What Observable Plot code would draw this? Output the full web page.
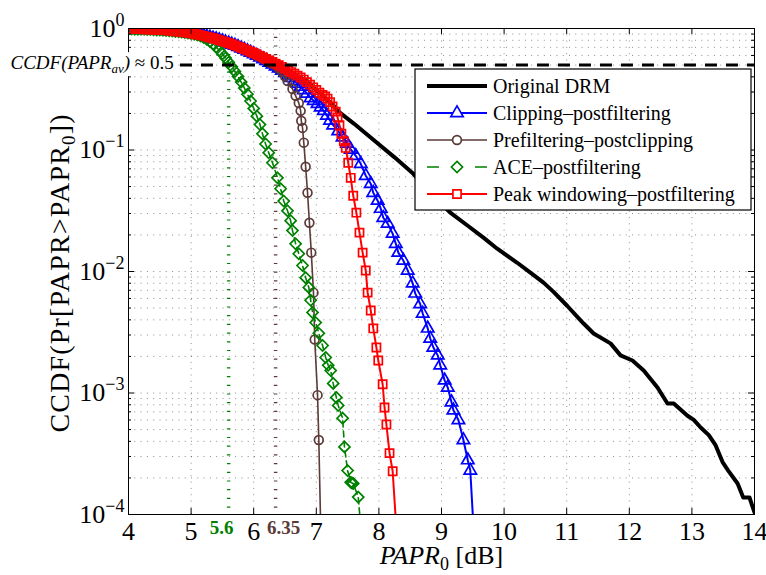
<!DOCTYPE html>
<html>
<head>
<meta charset="utf-8">
<script src="https://cdn.jsdelivr.net/npm/d3@7"></script>
<script src="https://cdn.jsdelivr.net/npm/@observablehq/plot@0.6"></script>
<style>
  body { margin: 0; background: #fff; }
  #chart { width: 766px; height: 575px; }
  svg { font-family: "Liberation Serif", "Times New Roman", serif; }
</style>
</head>
<body>
<div id="chart"></div>
<script>
// Axis ticks
const xTicks = [4, 5, 6, 7, 8, 9, 10, 11, 12, 13, 14];
const yTicks = [1e-4, 1e-3, 1e-2, 1e-1, 1];
const yMinor = [2, 3, 4, 5, 6, 7, 8, 9].flatMap(m => [1e-4, 1e-3, 1e-2, 1e-1].map(d => m * d));

// Average PAPR where each CCDF crosses 0.5
const paprAv = [5.6, 6.35];
const paprAvLabels = ["5.6", "6.35"];
const ccdfLevel = [0.5];

// Series names (legend order)
const seriesNames = ["Original DRM", "Clipping\u2013postfiltering", "Prefiltering\u2013postclipping", "ACE\u2013postfiltering", "Peak windowing\u2013postfiltering"];

// Original DRM: [PAPR0 dB, CCDF]
const drm = [[4.00,0.992],[4.05,0.991],[4.10,0.990],[4.15,0.989],[4.20,0.988],[4.25,0.986],[4.30,0.984],[4.35,0.982],[4.40,0.980],[4.45,0.977],[4.50,0.974],[4.55,0.970],[4.60,0.966],[4.65,0.961],[4.70,0.956],[4.75,0.950],[4.80,0.944],[4.85,0.937],[4.90,0.929],[4.95,0.921],[5.00,0.912],[5.05,0.902],[5.10,0.892],[5.15,0.881],[5.20,0.869],[5.25,0.857],[5.30,0.844],[5.35,0.831],[5.40,0.817],[5.45,0.803],[5.50,0.788],[5.55,0.773],[5.60,0.758],[5.65,0.742],[5.70,0.726],[5.75,0.710],[5.80,0.694],[5.85,0.677],[5.90,0.661],[5.95,0.644],[6.00,0.628],[6.05,0.611],[6.10,0.595],[6.15,0.578],[6.20,0.562],[6.25,0.546],[6.30,0.530],[6.35,0.514],[6.40,0.499],[6.45,0.483],[6.50,0.468],[6.55,0.453],[6.60,0.438],[6.65,0.424],[6.70,0.409],[6.75,0.395],[6.80,0.380],[6.85,0.362],[6.90,0.345],[6.95,0.328],[7.00,0.312],[7.05,0.296],[7.10,0.281],[7.15,0.266],[7.20,0.252],[7.25,0.238],[7.30,0.225],[7.34,0.210],[7.60,0.165],[7.95,0.117],[8.25,0.087],[8.55,0.0637],[8.85,0.043],[9.14,0.0305],[9.42,0.0238],[9.67,0.0190],[9.89,0.0154],[10.21,0.0118],[10.42,0.0098],[10.63,0.0081],[10.79,0.0068],[11.01,0.0052],[11.27,0.00373],[11.43,0.00309],[11.70,0.00256],[11.86,0.00204],[12.05,0.00185],[12.23,0.00153],[12.45,0.00111],[12.61,0.00082],[12.71,0.00082],[12.93,0.00065],[13.03,0.00060],[13.14,0.00052],[13.27,0.00045],[13.38,0.00037],[13.49,0.00027],[13.58,0.00023],[13.73,0.00018],[13.82,0.000138],[13.92,0.000138],[14.00,0.000104]];

// Clipping-postfiltering
const clipping = [[4.00,0.993],[4.05,0.992],[4.10,0.991],[4.15,0.990],[4.20,0.989],[4.25,0.987],[4.30,0.985],[4.35,0.983],[4.40,0.981],[4.45,0.978],[4.50,0.975],[4.55,0.971],[4.60,0.967],[4.65,0.962],[4.70,0.957],[4.75,0.951],[4.80,0.945],[4.85,0.938],[4.90,0.930],[4.95,0.922],[5.00,0.913],[5.05,0.903],[5.10,0.893],[5.15,0.882],[5.20,0.870],[5.25,0.858],[5.30,0.845],[5.35,0.831],[5.40,0.817],[5.45,0.802],[5.50,0.787],[5.55,0.771],[5.60,0.755],[5.65,0.739],[5.70,0.722],[5.75,0.705],[5.80,0.688],[5.85,0.670],[5.90,0.652],[5.95,0.634],[6.00,0.616],[6.05,0.598],[6.10,0.579],[6.15,0.561],[6.20,0.543],[6.25,0.525],[6.30,0.507],[6.35,0.489],[6.40,0.470],[6.45,0.451],[6.50,0.432],[6.55,0.412],[6.60,0.392],[6.65,0.372],[6.70,0.352],[6.75,0.332],[6.80,0.312],[6.85,0.292],[6.91,0.268],[6.96,0.254],[7.02,0.240],[7.07,0.225],[7.12,0.210],[7.17,0.192],[7.22,0.175],[7.27,0.160],[7.35,0.143],[7.42,0.127],[7.49,0.113],[7.55,0.101],[7.63,0.0896],[7.71,0.077],[7.79,0.0614],[7.87,0.0527],[7.91,0.0445],[7.98,0.0383],[8.03,0.0329],[8.07,0.0277],[8.14,0.0248],[8.22,0.0205],[8.27,0.0169],[8.31,0.0143],[8.39,0.0123],[8.46,0.0102],[8.54,0.0080],[8.58,0.0066],[8.66,0.0054],[8.70,0.00451],[8.78,0.0034],[8.82,0.00281],[8.87,0.00237],[8.94,0.00204],[8.98,0.00169],[9.05,0.00127],[9.10,0.00111],[9.16,0.00084],[9.19,0.00072],[9.27,0.00060],[9.35,0.00041],[9.42,0.00028],[9.46,0.00023],[9.51,0.00008]];

// Prefiltering-postclipping
const prefilter = [[4.00,0.992],[4.05,0.991],[4.10,0.990],[4.15,0.989],[4.20,0.988],[4.25,0.986],[4.30,0.984],[4.35,0.982],[4.40,0.980],[4.45,0.977],[4.50,0.974],[4.55,0.970],[4.60,0.966],[4.65,0.961],[4.70,0.956],[4.75,0.950],[4.80,0.944],[4.85,0.937],[4.90,0.929],[4.95,0.921],[5.00,0.912],[5.05,0.902],[5.10,0.892],[5.15,0.881],[5.20,0.869],[5.25,0.857],[5.30,0.844],[5.35,0.831],[5.40,0.817],[5.45,0.803],[5.50,0.788],[5.55,0.773],[5.60,0.758],[5.65,0.742],[5.70,0.726],[5.75,0.710],[5.80,0.693],[5.85,0.675],[5.90,0.657],[5.95,0.639],[6.00,0.620],[6.05,0.601],[6.10,0.582],[6.15,0.563],[6.20,0.544],[6.25,0.528],[6.30,0.512],[6.35,0.497],[6.40,0.470],[6.45,0.440],[6.50,0.405],[6.54,0.370],[6.62,0.318],[6.67,0.279],[6.72,0.244],[6.75,0.210],[6.76,0.174],[6.78,0.152],[6.80,0.115],[6.83,0.0728],[6.86,0.0445],[6.89,0.0252],[6.92,0.0143],[6.955,0.0067],[6.975,0.00276],[7.02,0.00096],[7.04,0.00041],[7.07,0.00008]];

// ACE-postfiltering
const ace = [[4.00,0.990],[4.05,0.989],[4.10,0.988],[4.15,0.987],[4.20,0.986],[4.25,0.984],[4.30,0.982],[4.35,0.980],[4.40,0.977],[4.45,0.974],[4.50,0.971],[4.55,0.967],[4.60,0.963],[4.65,0.958],[4.70,0.953],[4.75,0.947],[4.80,0.941],[4.85,0.934],[4.90,0.927],[4.95,0.919],[5.00,0.910],[5.05,0.898],[5.10,0.884],[5.15,0.866],[5.20,0.843],[5.25,0.815],[5.30,0.782],[5.35,0.745],[5.40,0.705],[5.45,0.662],[5.50,0.618],[5.55,0.573],[5.60,0.528],[5.65,0.485],[5.70,0.443],[5.75,0.402],[5.80,0.362],[5.85,0.324],[5.90,0.288],[5.95,0.253],[6.00,0.220],[6.05,0.190],[6.10,0.162],[6.14,0.136],[6.19,0.112],[6.24,0.095],[6.30,0.0785],[6.38,0.059],[6.43,0.048],[6.48,0.038],[6.54,0.0316],[6.59,0.0262],[6.62,0.0217],[6.67,0.0169],[6.72,0.0140],[6.78,0.0112],[6.83,0.0089],[6.88,0.0074],[6.91,0.0058],[6.94,0.0046],[6.99,0.0038],[7.04,0.0031],[7.10,0.00246],[7.15,0.00196],[7.19,0.00169],[7.23,0.00153],[7.27,0.00120],[7.32,0.00092],[7.35,0.00079],[7.42,0.00062],[7.45,0.00036],[7.50,0.00023],[7.55,0.000184],[7.57,0.000182],[7.59,0.000180],[7.67,0.000139],[7.71,0.00008]];

// Peak windowing-postfiltering
const peakWin = [[4.00,0.992],[4.05,0.991],[4.10,0.990],[4.15,0.989],[4.20,0.988],[4.25,0.986],[4.30,0.984],[4.35,0.982],[4.40,0.980],[4.45,0.977],[4.50,0.974],[4.55,0.970],[4.60,0.966],[4.65,0.961],[4.70,0.956],[4.75,0.950],[4.80,0.944],[4.85,0.937],[4.90,0.929],[4.95,0.921],[5.00,0.912],[5.05,0.902],[5.10,0.892],[5.15,0.881],[5.20,0.869],[5.25,0.857],[5.30,0.844],[5.35,0.831],[5.40,0.817],[5.45,0.803],[5.50,0.788],[5.55,0.773],[5.60,0.758],[5.65,0.742],[5.70,0.726],[5.75,0.710],[5.80,0.694],[5.85,0.677],[5.90,0.661],[5.95,0.644],[6.00,0.628],[6.05,0.611],[6.10,0.595],[6.15,0.578],[6.20,0.562],[6.25,0.546],[6.30,0.530],[6.35,0.514],[6.40,0.499],[6.45,0.483],[6.50,0.468],[6.55,0.453],[6.60,0.438],[6.65,0.424],[6.70,0.409],[6.75,0.395],[6.80,0.380],[6.85,0.362],[6.90,0.345],[6.95,0.328],[7.00,0.312],[7.05,0.296],[7.10,0.284],[7.14,0.276],[7.18,0.265],[7.22,0.248],[7.26,0.228],[7.31,0.207],[7.34,0.185],[7.37,0.160],[7.40,0.136],[7.44,0.118],[7.47,0.104],[7.51,0.0785],[7.55,0.059],[7.59,0.042],[7.64,0.0305],[7.69,0.0209],[7.74,0.0143],[7.79,0.0102],[7.82,0.0067],[7.87,0.00478],[7.91,0.0034],[7.96,0.00237],[7.99,0.00185],[8.06,0.00118],[8.09,0.00076],[8.12,0.00055],[8.17,0.00032],[8.22,0.000227],[8.27,0.00009]];

const GREEN = "#008000", BROWN = "#5b3a37", BLUE = "#0000ff", RED = "#ff0000";
const styles = [
  {data: drm, stroke: "#000", width: 4, symbol: null},
  {data: clipping, stroke: BLUE, width: 2, symbol: "triangle", r: 4.6},
  {data: prefilter, stroke: BROWN, width: 1.6, symbol: "circle", r: 4.4},
  {data: ace, stroke: GREEN, width: 1.6, symbol: "diamond2", r: 5, dash: "6,4"},
  {data: peakWin, stroke: RED, width: 2, symbol: "square", r: 4.6}
];

const W = 766, H = 575, mL = 128, mR = 12, mT = 28, mB = 61;
const pw = W - mL - mR, ph = H - mT - mB;
const gridStyle = {stroke: "#000", strokeOpacity: 0.45, strokeDasharray: "1,5.3"};

const seriesMarks = styles.flatMap(s => {
  const m = [Plot.line(s.data, {x: d => d[0], y: d => d[1], stroke: s.stroke, strokeWidth: s.width, strokeDasharray: s.dash, clip: true})];
  if (s.symbol) m.push(Plot.dot(s.data, {x: d => d[0], y: d => d[1], symbol: s.symbol, r: s.r, stroke: s.stroke, strokeWidth: 1.7, fill: "none", clip: true}));
  return m;
});

const chart = Plot.plot({
  width: W, height: H,
  marginLeft: mL, marginRight: mR, marginTop: mT, marginBottom: mB,
  style: {fontFamily: "Liberation Serif, serif", background: "#fff", color: "#000"},
  x: {domain: [4, 14]},
  y: {type: "log", domain: [1e-4, 1]},
  marks: [
    // dotted grid
    Plot.ruleX(xTicks.slice(1, -1), {x: d => d, ...gridStyle}),
    Plot.ruleY([...yTicks.slice(1, -1), ...yMinor], {y: d => d, ...gridStyle}),
    // average-PAPR markers
    Plot.ruleX(paprAv, {x: d => d, stroke: (d, i) => [GREEN, BROWN][i], strokeWidth: 3.5, strokeDasharray: "1.2,7.5"}),
    // curves
    ...seriesMarks,
    // CCDF = 0.5 reference
    Plot.ruleY(ccdfLevel, {y: d => d, x1: 4.83, x2: 14, stroke: "#000", strokeWidth: 3, strokeDasharray: "12,9"}),
    Plot.frame({stroke: "#000", strokeWidth: 1}),
    // inward ticks
    Plot.tickX(xTicks, {x: d => d, insetTop: ph - 6, stroke: "#000"}),
    Plot.tickX(xTicks, {x: d => d, insetBottom: ph - 6, stroke: "#000"}),
    Plot.tickY(yTicks, {y: d => d, insetRight: pw - 6, stroke: "#000"}),
    Plot.tickY(yTicks, {y: d => d, insetLeft: pw - 6, stroke: "#000"}),
    Plot.tickY(yMinor, {y: d => d, insetRight: pw - 3, stroke: "#000"}),
    Plot.tickY(yMinor, {y: d => d, insetLeft: pw - 3, stroke: "#000"}),
    // axes
    Plot.axisX({ticks: xTicks, tickSize: 0, tickPadding: 7.5, fontSize: 26, tickFormat: d => String(d), label: null}),
    Plot.axisY({ticks: yTicks, tickSize: 0, tickPadding: 4, fontSize: 26, tickFormat: d => "10^" + Math.round(Math.log10(d)), label: null}),
    // average PAPR labels
    Plot.text(paprAv, {x: d => d, frameAnchor: "bottom", lineAnchor: "bottom", dy: 19, text: (d, i) => paprAvLabels[i], fill: (d, i) => [GREEN, BROWN][i], fontSize: 19, fontWeight: "bold", ariaLabel: (d, i) => "papr-av-" + i}),
    // note on the 0.5 level
    Plot.text(ccdfLevel, {y: d => d, frameAnchor: "left", textAnchor: "start", dx: -118, dy: -2, text: () => "note", fontSize: 19, ariaLabel: () => "ccdf-note"}),
    // axis titles
    Plot.text(["x"], {frameAnchor: "bottom", lineAnchor: "bottom", dy: 49, text: d => d, fontSize: 26, ariaLabel: () => "x-title"}),
    Plot.text(["y"], {frameAnchor: "left", textAnchor: "middle", lineAnchor: "bottom", rotate: -90, dx: -60, dy: 2, text: d => d, fontSize: 28, ariaLabel: () => "y-title"})
  ]
});

document.getElementById("chart").appendChild(chart);
const svg = d3.select(chart);
const NS = "http://www.w3.org/2000/svg";

function rich(textEl, parts) {
  if (!textEl) return;
  textEl.textContent = "";
  for (const p of parts) {
    const ts = document.createElementNS(NS, "tspan");
    ts.textContent = p.t;
    if (p.italic) ts.setAttribute("font-style", "italic");
    if (p.size) ts.setAttribute("font-size", p.size);
    if (p.shift) ts.setAttribute("baseline-shift", p.shift);
    textEl.appendChild(ts);
  }
}
function findText(label) {
  return chart.querySelector(`[aria-label="${label}"]`);
}

// y tick labels as powers of ten
svg.selectAll('g[aria-label="y-axis tick label"] text').each(function() {
  const [base, exp] = this.textContent.split("^");
  rich(this, [{t: base}, {t: exp.replace("-", "\u2212"), size: 18, shift: 11}]);
});

// average-PAPR label nudges
[[0, -7], [1, 8]].forEach(([i, dx]) => {
  const t = findText("papr-av-" + i);
  if (t) t.setAttribute("dx", dx);
});

// axis titles with italics and subscripts
rich(findText("x-title"), [
  {t: "PAPR", italic: true}, {t: "0", size: 18, shift: -6}, {t: " [dB]"}
]);
const yTitle = findText("y-title");
rich(yTitle, [
  {t: "CCDF(Pr[PAPR>PAPR"}, {t: "0", size: 19, shift: -6}, {t: "])"}
]);
if (yTitle) { yTitle.setAttribute("textLength", 318); yTitle.setAttribute("lengthAdjust", "spacing"); }

// note with white background
const note = findText("ccdf-note");
if (note) {
  rich(note, [
    {t: "CCDF(PAPR", italic: true}, {t: "av", italic: true, size: 13, shift: -4}, {t: ")", italic: true}, {t: " \u2248 0.5"}
  ]);
  const nb = note.getBBox();
  const bg = document.createElementNS(NS, "rect");
  bg.setAttribute("x", nb.x - 2); bg.setAttribute("y", nb.y);
  bg.setAttribute("width", nb.width + 4); bg.setAttribute("height", nb.height);
  bg.setAttribute("fill", "#fff");
  if (note.getAttribute("transform")) bg.setAttribute("transform", note.getAttribute("transform"));
  note.parentNode.insertBefore(bg, note);
}

// legend
const lg = svg.append("g").attr("aria-label", "legend");
const box = {x: 415, y: 69, w: 336, h: 141};
lg.append("rect").attr("x", box.x).attr("y", box.y).attr("width", box.w).attr("height", box.h)
  .attr("fill", "#fff").attr("stroke", "#000").attr("stroke-width", 1.2);
const symbolTypes = {triangle: d3.symbolTriangle, circle: d3.symbolCircle, diamond2: d3.symbolDiamond2, square: d3.symbolSquare};
styles.forEach((s, i) => {
  const cy = box.y + 17 + i * 27;
  lg.append("line").attr("x1", 427).attr("x2", 487).attr("y1", cy).attr("y2", cy)
    .attr("stroke", s.stroke).attr("stroke-width", s.width)
    .attr("stroke-dasharray", s.dash ? "12,36" : null);
  if (s.symbol) {
    lg.append("path").attr("d", d3.symbol(symbolTypes[s.symbol], s.r * s.r * Math.PI)())
      .attr("transform", `translate(457,${cy})`).attr("fill", "#fff")
      .attr("stroke", s.stroke).attr("stroke-width", 1.7);
  }
  lg.append("text").attr("x", 493).attr("y", cy).attr("dy", "0.33em")
    .attr("text-anchor", "start").attr("font-size", 20).attr("fill", "#000").text(seriesNames[i]);
});
</script>
</body>
</html>
